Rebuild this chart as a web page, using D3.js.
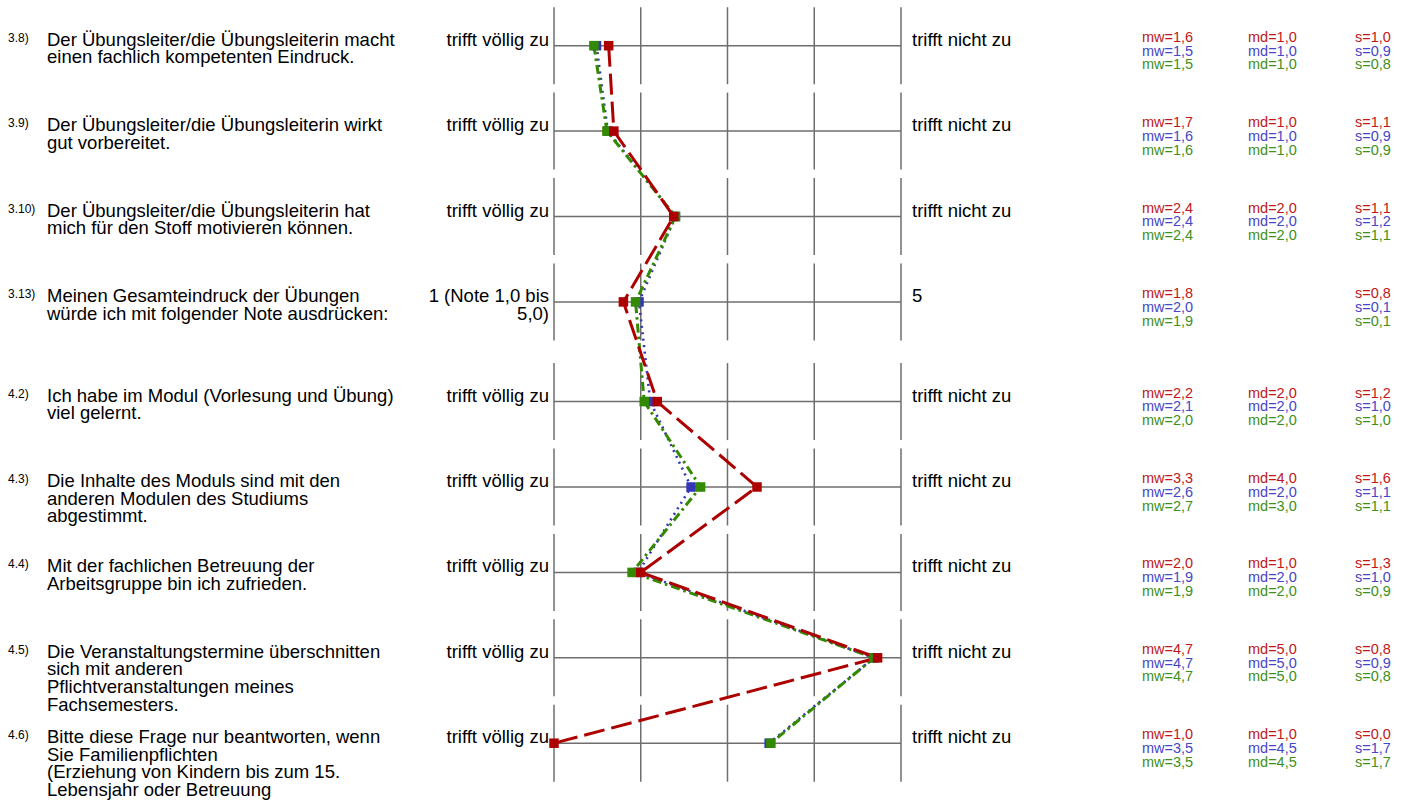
<!DOCTYPE html>
<html><head><meta charset="utf-8">
<script src="https://cdn.jsdelivr.net/npm/d3@7"></script>
<style>
html,body{margin:0;padding:0;background:#fff;}
svg text{font-family:"Liberation Sans",Arial,sans-serif;}
</style></head>
<body><svg id="c" width="1410" height="805"></svg>
<script>
// ---- data ----
const itemNumbers = ["3.8)","3.9)","3.10)","3.13)","4.2)","4.3)","4.4)","4.5)","4.6)"];
const itemSections = [0,0,0,0,1,1,1,1,1];
const questions = [
  ["Der Übungsleiter/die Übungsleiterin macht","einen fachlich kompetenten Eindruck."],
  ["Der Übungsleiter/die Übungsleiterin wirkt","gut vorbereitet."],
  ["Der Übungsleiter/die Übungsleiterin hat","mich für den Stoff motivieren können."],
  ["Meinen Gesamteindruck der Übungen","würde ich mit folgender Note ausdrücken:"],
  ["Ich habe im Modul (Vorlesung und Übung)","viel gelernt."],
  ["Die Inhalte des Moduls sind mit den","anderen Modulen des Studiums","abgestimmt."],
  ["Mit der fachlichen Betreuung der","Arbeitsgruppe bin ich zufrieden."],
  ["Die Veranstaltungstermine überschnitten","sich mit anderen","Pflichtveranstaltungen meines","Fachsemesters."],
  ["Bitte diese Frage nur beantworten, wenn","Sie Familienpflichten","(Erziehung von Kindern bis zum 15.","Lebensjahr oder Betreuung"]
];
const leftPoles = [["trifft völlig zu"],["trifft völlig zu"],["trifft völlig zu"],["1 (Note 1,0 bis","5,0)"],["trifft völlig zu"],["trifft völlig zu"],["trifft völlig zu"],["trifft völlig zu"],["trifft völlig zu"]];
const rightPoles = ["trifft nicht zu","trifft nicht zu","trifft nicht zu","5","trifft nicht zu","trifft nicht zu","trifft nicht zu","trifft nicht zu","trifft nicht zu"];
const scaleTicks = [1,2,3,4,5];

// series positions (means, as drawn)
const redValues   = [1.63,1.69,2.38,1.80,2.19,3.34,2.00,4.73,1.00];
const blueValues  = [1.49,1.62,2.40,1.98,2.11,2.58,1.97,4.69,3.48];
const greenValues = [1.46,1.61,2.40,1.94,2.04,2.69,1.90,4.69,3.50];

// printed statistics
const redMw   = ["1,6","1,7","2,4","1,8","2,2","3,3","2,0","4,7","1,0"];
const blueMw  = ["1,5","1,6","2,4","2,0","2,1","2,6","1,9","4,7","3,5"];
const greenMw = ["1,5","1,6","2,4","1,9","2,0","2,7","1,9","4,7","3,5"];
const redMd   = ["1,0","1,0","2,0",null,"2,0","4,0","1,0","5,0","1,0"];
const blueMd  = ["1,0","1,0","2,0",null,"2,0","2,0","2,0","5,0","4,5"];
const greenMd = ["1,0","1,0","2,0",null,"2,0","3,0","2,0","5,0","4,5"];
const redS    = ["1,0","1,1","1,1","0,8","1,2","1,6","1,3","0,8","0,0"];
const blueS   = ["0,9","0,9","1,2","0,1","1,0","1,1","1,0","0,9","1,7"];
const greenS  = ["0,8","0,9","1,1","0,1","1,0","1,1","0,9","0,8","1,7"];

// ---- layout ----
const svg = d3.select("#c");
const x = d3.scaleLinear().domain([1,5]).range([554,901]);
const rowPitch = 85.4, sectionGap = 14.3, firstRow = 45.7;
const rowY = i => firstRow + i*rowPitch + itemSections[i]*sectionGap;
const halfTick = 38.5;
const gridColor = "#6e6e6e";
const mainFont = 18.5, linePitch = 17.6;

const series = [
  {name:"blue",  vals:blueValues,  line:"#3535b8", text:"#4646c6", dash:"2,4.5", width:2.6, mw:blueMw, md:blueMd, s:blueS},
  {name:"green", vals:greenValues, line:"#338a00", text:"#3f8f1a", dash:"9,4,2.5,4", width:3, mw:greenMw, md:greenMd, s:greenS},
  {name:"red",   vals:redValues,   line:"#ad0000", text:"#c01818", dash:"21,7", width:3, mw:redMw, md:redMd, s:redS}
];

// grid
const rows = svg.append("g");
itemNumbers.forEach((num,i)=>{
  const cy = rowY(i);
  const g = rows.append("g");
  g.append("line").attr("x1",x(1)).attr("x2",x(5)).attr("y1",cy).attr("y2",cy)
    .attr("stroke",gridColor).attr("stroke-width",1.5);
  g.selectAll("line.t").data(scaleTicks).enter().append("line").attr("class","t")
    .attr("x1",d=>x(d)).attr("x2",d=>x(d)).attr("y1",cy-halfTick).attr("y2",cy+halfTick)
    .attr("stroke",gridColor).attr("stroke-width",1.5);
  // item number
  svg.append("text").attr("x",8).attr("y",cy-4).attr("font-size",12).attr("fill","#000").text(num);
  // question
  const qt = svg.append("text").attr("x",47).attr("y",cy).attr("font-size",mainFont).attr("fill","#000");
  questions[i].forEach((l,k)=>qt.append("tspan").attr("x",47).attr("y",cy+k*linePitch).text(l));
  // poles
  const lt = svg.append("text").attr("x",549).attr("y",cy).attr("font-size",mainFont).attr("text-anchor","end").attr("fill","#000");
  leftPoles[i].forEach((l,k)=>lt.append("tspan").attr("x",549).attr("y",cy+k*linePitch).text(l));
  svg.append("text").attr("x",912).attr("y",cy).attr("font-size",mainFont).attr("fill","#000").text(rightPoles[i]);
});

// profile lines
const lineGen = d3.line().x(d=>x(d.v)).y(d=>rowY(d.i));
series.forEach(s=>{
  svg.append("path").datum(s.vals.map((v,i)=>({v,i})))
    .attr("d",lineGen).attr("fill","none").attr("stroke",s.line)
    .attr("stroke-width",s.width).attr("stroke-dasharray",s.dash);
});
const ms = 9.5;
series.forEach(s=>{
  svg.append("g").selectAll("rect").data(s.vals).enter().append("rect")
    .attr("x",d=>x(d)-ms/2).attr("y",(d,i)=>rowY(i)-ms/2)
    .attr("width",ms).attr("height",ms).attr("fill",s.line);
});

// statistics
const statOrder = [series[2],series[0],series[1]];
const statFont = 14.5, statPitch = 13.8;
itemNumbers.forEach((n,i)=>{
  const cy = rowY(i);
  statOrder.forEach((s,k)=>{
    const by = cy - 4 + k*statPitch;
    svg.append("text").attr("x",1142).attr("y",by).attr("font-size",statFont).attr("fill",s.text).text("mw="+s.mw[i]);
    if(s.md[i]!==null) svg.append("text").attr("x",1248).attr("y",by).attr("font-size",statFont).attr("fill",s.text).text("md="+s.md[i]);
    svg.append("text").attr("x",1355).attr("y",by).attr("font-size",statFont).attr("fill",s.text).text("s="+s.s[i]);
  });
});
</script></body></html>
